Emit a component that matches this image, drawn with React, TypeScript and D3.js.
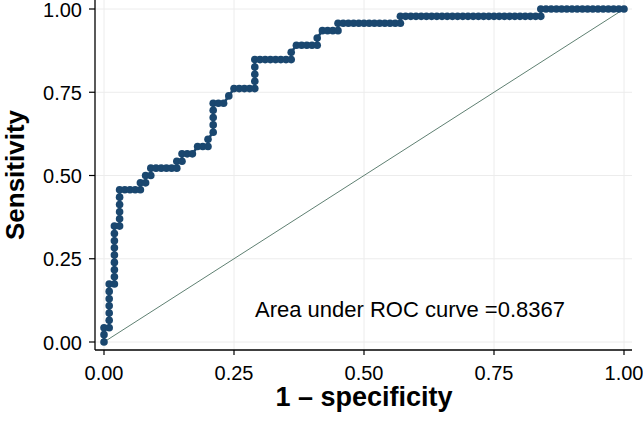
import React from 'react'
import * as d3 from 'd3'

const xTicks = [0, 0.25, 0.5, 0.75, 1]
const yTicks = [0, 0.25, 0.5, 0.75, 1]
const tickLabels = ['0.00', '0.25', '0.50', '0.75', '1.00']
const xTitle = '1 – specificity'
const yTitle = 'Sensitivity'
const aucLabel = 'Area under ROC curve =0.8367'

// [1 - specificity, sensitivity]
const rocPoints: [number, number][] = [
  [0, 0], [0, 0.022], [0, 0.043],
  [0.01, 0.043], [0.01, 0.065], [0.01, 0.087], [0.01, 0.109], [0.01, 0.13], [0.01, 0.152], [0.01, 0.174],
  [0.02, 0.174], [0.02, 0.196], [0.02, 0.217], [0.02, 0.239], [0.02, 0.261], [0.02, 0.283], [0.02, 0.304], [0.02, 0.326], [0.02, 0.348],
  [0.03, 0.348], [0.03, 0.37], [0.03, 0.391], [0.03, 0.413], [0.03, 0.435], [0.03, 0.457],
  [0.04, 0.457], [0.05, 0.457], [0.06, 0.457], [0.07, 0.457],
  [0.07, 0.478], [0.08, 0.478], [0.08, 0.5], [0.09, 0.5], [0.09, 0.522],
  [0.1, 0.522], [0.11, 0.522], [0.12, 0.522], [0.13, 0.522], [0.14, 0.522],
  [0.14, 0.543], [0.15, 0.543], [0.15, 0.565], [0.16, 0.565], [0.17, 0.565],
  [0.18, 0.587], [0.19, 0.587], [0.2, 0.587], [0.2, 0.609],
  [0.21, 0.63], [0.21, 0.652], [0.21, 0.674], [0.21, 0.696], [0.21, 0.717],
  [0.22, 0.717], [0.23, 0.717], [0.24, 0.739],
  [0.25, 0.761], [0.26, 0.761], [0.27, 0.761], [0.28, 0.761], [0.29, 0.761],
  [0.29, 0.783], [0.29, 0.804], [0.29, 0.826], [0.29, 0.848],
  [0.3, 0.848], [0.31, 0.848], [0.32, 0.848], [0.33, 0.848], [0.34, 0.848], [0.35, 0.848], [0.36, 0.848],
  [0.36, 0.87], [0.37, 0.891], [0.38, 0.891], [0.39, 0.891], [0.4, 0.891], [0.41, 0.891],
  [0.41, 0.913], [0.42, 0.935], [0.43, 0.935], [0.44, 0.935], [0.45, 0.935],
  [0.45, 0.957], [0.46, 0.957], [0.47, 0.957], [0.48, 0.957], [0.49, 0.957], [0.5, 0.957],
  [0.51, 0.957], [0.52, 0.957], [0.53, 0.957], [0.54, 0.957], [0.55, 0.957], [0.56, 0.957], [0.57, 0.957],
  [0.57, 0.978], [0.58, 0.978], [0.59, 0.978], [0.6, 0.978], [0.61, 0.978], [0.62, 0.978], [0.63, 0.978],
  [0.64, 0.978], [0.65, 0.978], [0.66, 0.978], [0.67, 0.978], [0.68, 0.978], [0.69, 0.978], [0.7, 0.978],
  [0.71, 0.978], [0.72, 0.978], [0.73, 0.978], [0.74, 0.978], [0.75, 0.978], [0.76, 0.978], [0.77, 0.978],
  [0.78, 0.978], [0.79, 0.978], [0.8, 0.978], [0.81, 0.978], [0.82, 0.978], [0.83, 0.978], [0.84, 0.978],
  [0.84, 1], [0.85, 1], [0.86, 1], [0.87, 1], [0.88, 1], [0.89, 1], [0.9, 1], [0.91, 1],
  [0.92, 1], [0.93, 1], [0.94, 1], [0.95, 1], [0.96, 1], [0.97, 1], [0.98, 1], [0.99, 1], [1, 1]
]

const refLine: [number, number][] = [[0, 0], [1, 1]]

const width = 643
const height = 421
const font = '"Liberation Sans", Arial, Helvetica, sans-serif'
const navy = '#1a476f'

export default function App () {
  const x = d3.scaleLinear().domain([0, 1]).range([104, 624])
  const y = d3.scaleLinear().domain([0, 1]).range([342, 9])
  const axisX = 95
  const axisY = 350
  const right = 632

  const line = d3.line<[number, number]>()
    .x(d => x(d[0]))
    .y(d => y(d[1]))

  return (
    <svg
      width={width}
      height={height}
      viewBox={`0 0 ${width} ${height}`}
      style={{ position: 'absolute', left: 0, top: 0, background: '#fff' }}
      fontFamily={font}
    >
      <rect width={width} height={height} fill='#fff' />

      {/* grid */}
      {xTicks.map(t => (
        <line key={'gx' + t} x1={x(t)} x2={x(t)} y1={0} y2={axisY} stroke='#ececec' strokeWidth={1} />
      ))}
      {yTicks.map(t => (
        <line key={'gy' + t} x1={axisX} x2={right} y1={y(t)} y2={y(t)} stroke='#ececec' strokeWidth={1} />
      ))}

      {/* axes */}
      <line x1={axisX} x2={axisX} y1={0} y2={axisY} stroke='#000' strokeWidth={1.3} />
      <line x1={axisX} x2={right} y1={axisY} y2={axisY} stroke='#000' strokeWidth={1.3} />

      {yTicks.map((t, i) => (
        <g key={'yt' + t}>
          <line x1={axisX - 6} x2={axisX} y1={y(t)} y2={y(t)} stroke='#000' strokeWidth={1.2} />
          <text x={axisX - 13} y={y(t) + 0.5} dy='0.36em' textAnchor='end' fontSize={20}>{tickLabels[i]}</text>
        </g>
      ))}
      {xTicks.map((t, i) => (
        <g key={'xt' + t}>
          <line x1={x(t)} x2={x(t)} y1={axisY} y2={axisY + 5} stroke='#000' strokeWidth={1.2} />
          <text x={x(t)} y={380} textAnchor='middle' fontSize={20}>{tickLabels[i]}</text>
        </g>
      ))}

      <text x={364} y={406} textAnchor='middle' fontSize={27} fontWeight='bold'>{xTitle}</text>
      <text transform={`translate(24,175) rotate(-90)`} textAnchor='middle' fontSize={26} fontWeight='bold'>{yTitle}</text>

      {/* reference line */}
      <path d={line(refLine) ?? ''} fill='none' stroke='#5f8072' strokeWidth={1} />

      {/* ROC curve */}
      <path d={line(rocPoints) ?? ''} fill='none' stroke={navy} strokeWidth={2.5} />
      {rocPoints.map((p, i) => (
        <circle key={'m' + i} cx={x(p[0])} cy={y(p[1])} r={3.8} fill={navy} />
      ))}

      <text x={255} y={317} fontSize={22}>{aucLabel}</text>
    </svg>
  )
}
